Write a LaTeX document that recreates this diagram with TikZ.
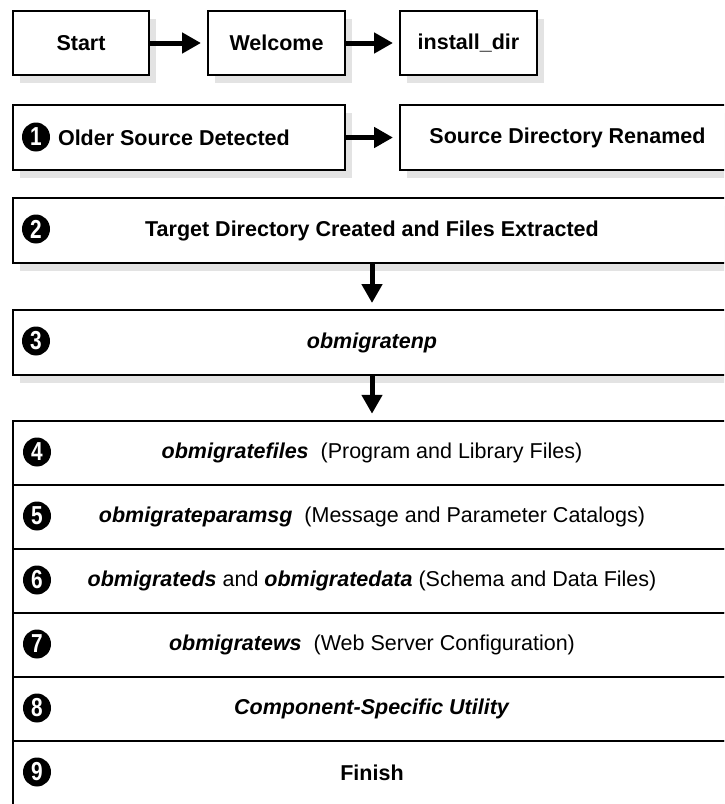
\documentclass[tikz,border=0pt]{standalone}
\usepackage{fontspec}
\setmainfont{Liberation Sans}
\usetikzlibrary{arrows.meta,shadows,shapes.geometric}
\newcommand{\stepnum}[1]{\scalebox{0.8}[1]{#1}}
\begin{document}
\begin{tikzpicture}[x=1pt,y=-1pt,
  txt/.style={font=\fontsize{21.5}{25}\selectfont},
  box/.style={draw=black, line width=2pt, fill=white, inner sep=0pt, txt,
    drop shadow={shadow xshift=7pt, shadow yshift=-8pt, fill=black!11, opacity=1}},
  stage/.style={draw=black, line width=2.5pt, fill=white, minimum width=718pt,
    minimum height=64pt, inner sep=0pt, txt},
  badge/.style={ellipse, fill=black, text=white, minimum width=28pt, minimum height=29pt,
    inner sep=0pt, font=\bfseries\fontsize{26}{26}\selectfont},
  flow/.style={line width=5pt, -{Triangle[length=19pt,width=20pt]}, shorten >=6pt}]
\useasboundingbox (0,0) rectangle (724,804);
\clip (0,0) rectangle (724,804);
\fill[white] (0,0) rectangle (724,804);

% first row: start, welcome, install directory
\node[box, minimum width=136pt, minimum height=64pt] (start) at (81,43) {\bfseries Start};
\node[box, minimum width=137pt, minimum height=64pt] (welcome) at (276.5,43) {\bfseries Welcome};
\node[box, minimum width=137pt, minimum height=64pt] (instdir) at (468.5,43) {\bfseries install\_dir};
\draw[flow] (start) -- (welcome);
\draw[flow] (welcome) -- (instdir);

% second row: older source found and renamed
\node[box, minimum width=332pt, minimum height=65pt] (older) at (179,137.5) {};
\node[badge] (b1) at (36,137) {\stepnum{1}};
\node[anchor=west, txt, font=\bfseries\fontsize{21.5}{25}\selectfont] (oldertxt) at (54.5,137.5) {Older Source Detected};
\node[box, minimum width=335pt, minimum height=65pt] (renamed) at (567.5,137.5) {\bfseries Source Directory Renamed};
\draw[flow] (older) -- (renamed);

% target directory and migration of the network profile
\node[box, minimum width=718pt, minimum height=65pt] (target) at (372,230.5)
  {\bfseries Target Directory Created and Files Extracted};
\node[badge] (b2) at (36,229) {\stepnum{2}};
\node[box, minimum width=718pt, minimum height=65pt] (npmig) at (372,342.5)
  {\bfseries\itshape obmigratenp};
\node[badge] (b3) at (36,341) {\stepnum{3}};
\draw[flow] (target) -- (npmig);

% stack of migration utilities
\node[stage] (files) at (372,453)
  {\textbf{\textit{obmigratefiles}}\ \ (Program and Library Files)};
\node[stage] (params) at (372,517)
  {\textbf{\textit{obmigrateparamsg}}\ \ (Message and Parameter Catalogs)};
\node[stage] (data) at (372,581)
  {\textbf{\textit{obmigrateds}} and \textbf{\textit{obmigratedata}} (Schema and Data Files)};
\node[stage] (web) at (372,645)
  {\textbf{\textit{obmigratews}}\ \ (Web Server Configuration)};
\node[stage] (comp) at (372,709)
  {\textbf{\textit{Component-Specific Utility}}};
\node[stage] (finish) at (372,773)
  {\textbf{Finish}};
\draw[flow] (npmig) -- (files);

\node[badge] (b4) at (37,452) {\stepnum{4}};
\node[badge] (b5) at (37,516) {\stepnum{5}};
\node[badge] (b6) at (37,580) {\stepnum{6}};
\node[badge] (b7) at (37,644) {\stepnum{7}};
\node[badge] (b8) at (37,708) {\stepnum{8}};
\node[badge] (b9) at (37,772) {\stepnum{9}};
\end{tikzpicture}
\end{document}
